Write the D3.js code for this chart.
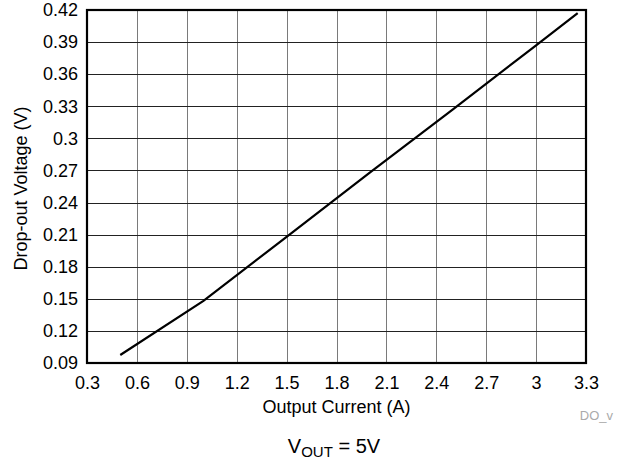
<!DOCTYPE html>
<html>
<head>
<meta charset="utf-8">
<script src="https://cdn.jsdelivr.net/npm/d3@7"></script>
<style>
  html, body { margin: 0; padding: 0; background: #fff; }
  svg { display: block; font-family: "Liberation Sans", Arial, sans-serif; }
</style>
</head>
<body>
<svg id="chart" width="622" height="461"></svg>
<script>
// Drop-out voltage vs. output current
const currentA = [0.5, 1.0, 1.5, 2.0, 2.5, 3.0, 3.25];
const dropoutV = [0.0975, 0.148, 0.208, 0.268, 0.327, 0.387, 0.417];

const xTicks = [0.3, 0.6, 0.9, 1.2, 1.5, 1.8, 2.1, 2.4, 2.7, 3.0, 3.3];
const xTickLabels = ["0.3", "0.6", "0.9", "1.2", "1.5", "1.8", "2.1", "2.4", "2.7", "3", "3.3"];
const yTicks = [0.09, 0.12, 0.15, 0.18, 0.21, 0.24, 0.27, 0.30, 0.33, 0.36, 0.39, 0.42];
const yTickLabels = ["0.09", "0.12", "0.15", "0.18", "0.21", "0.24", "0.27", "0.3", "0.33", "0.36", "0.39", "0.42"];

const svg = d3.select("#chart");
const m = { left: 87, top: 10, right: 586, bottom: 363 };
const fontSize = 18;

const x = d3.scaleLinear().domain([0.3, 3.3]).range([m.left, m.right]);
const y = d3.scaleLinear().domain([0.09, 0.42]).range([m.bottom, m.top]);

// grid
const grid = svg.append("g");
grid.selectAll("line.v").data(xTicks.slice(1, -1)).join("line")
  .attr("x1", d => Math.round(x(d)) + 0.5).attr("x2", d => Math.round(x(d)) + 0.5)
  .attr("y1", m.top).attr("y2", m.bottom)
  .attr("stroke", "#7a7a7a").attr("stroke-width", 1);
grid.selectAll("line.h").data(yTicks.slice(1, -1)).join("line")
  .attr("y1", d => Math.round(y(d)) + 0.5).attr("y2", d => Math.round(y(d)) + 0.5)
  .attr("x1", m.left).attr("x2", m.right)
  .attr("stroke", "#222").attr("stroke-width", 1);

// axes (labels only, frame drawn separately)
const xAxis = d3.axisBottom(x).tickValues(xTicks)
  .tickFormat((d, i) => xTickLabels[i]).tickSize(0).tickPadding(13);
const yAxis = d3.axisLeft(y).tickValues(yTicks)
  .tickFormat((d, i) => yTickLabels[i]).tickSize(0).tickPadding(9);

const gx = svg.append("g").attr("transform", `translate(0,${m.bottom})`).call(xAxis);
const gy = svg.append("g").attr("transform", `translate(${m.left},0)`).call(yAxis);
[gx, gy].forEach(g => {
  g.select(".domain").remove();
  g.selectAll("text").attr("font-size", fontSize).attr("fill", "#000")
    .attr("font-family", "'Liberation Sans', Arial, sans-serif");
});

// frame
svg.append("rect")
  .attr("x", m.left).attr("y", m.top)
  .attr("width", m.right - m.left).attr("height", m.bottom - m.top)
  .attr("fill", "none").attr("stroke", "#000").attr("stroke-width", 2.2);

// data line
const line = d3.line().x((d, i) => x(currentA[i])).y(d => y(d));
svg.append("path").datum(dropoutV)
  .attr("d", line)
  .attr("fill", "none").attr("stroke", "#000").attr("stroke-width", 2.2);

// titles
svg.append("text")
  .attr("x", (m.left + m.right) / 2).attr("y", 413)
  .attr("text-anchor", "middle").attr("font-size", fontSize)
  .text("Output Current (A)");

svg.append("text")
  .attr("transform", `translate(27,${(m.top + m.bottom) / 2 + 2}) rotate(-90)`)
  .attr("text-anchor", "middle").attr("font-size", fontSize)
  .text("Drop-out Voltage (V)");

svg.append("text")
  .attr("x", 613).attr("y", 420)
  .attr("text-anchor", "end").attr("font-size", 13).attr("fill", "#aaa")
  .text("DO_v");

const note = svg.append("text")
  .attr("x", 334).attr("y", 453)
  .attr("text-anchor", "middle").attr("font-size", 20);
note.append("tspan").text("V");
note.append("tspan").attr("font-size", 15).attr("dy", 4).text("OUT");
note.append("tspan").attr("dy", -4).text(" = 5V");
</script>
</body>
</html>
